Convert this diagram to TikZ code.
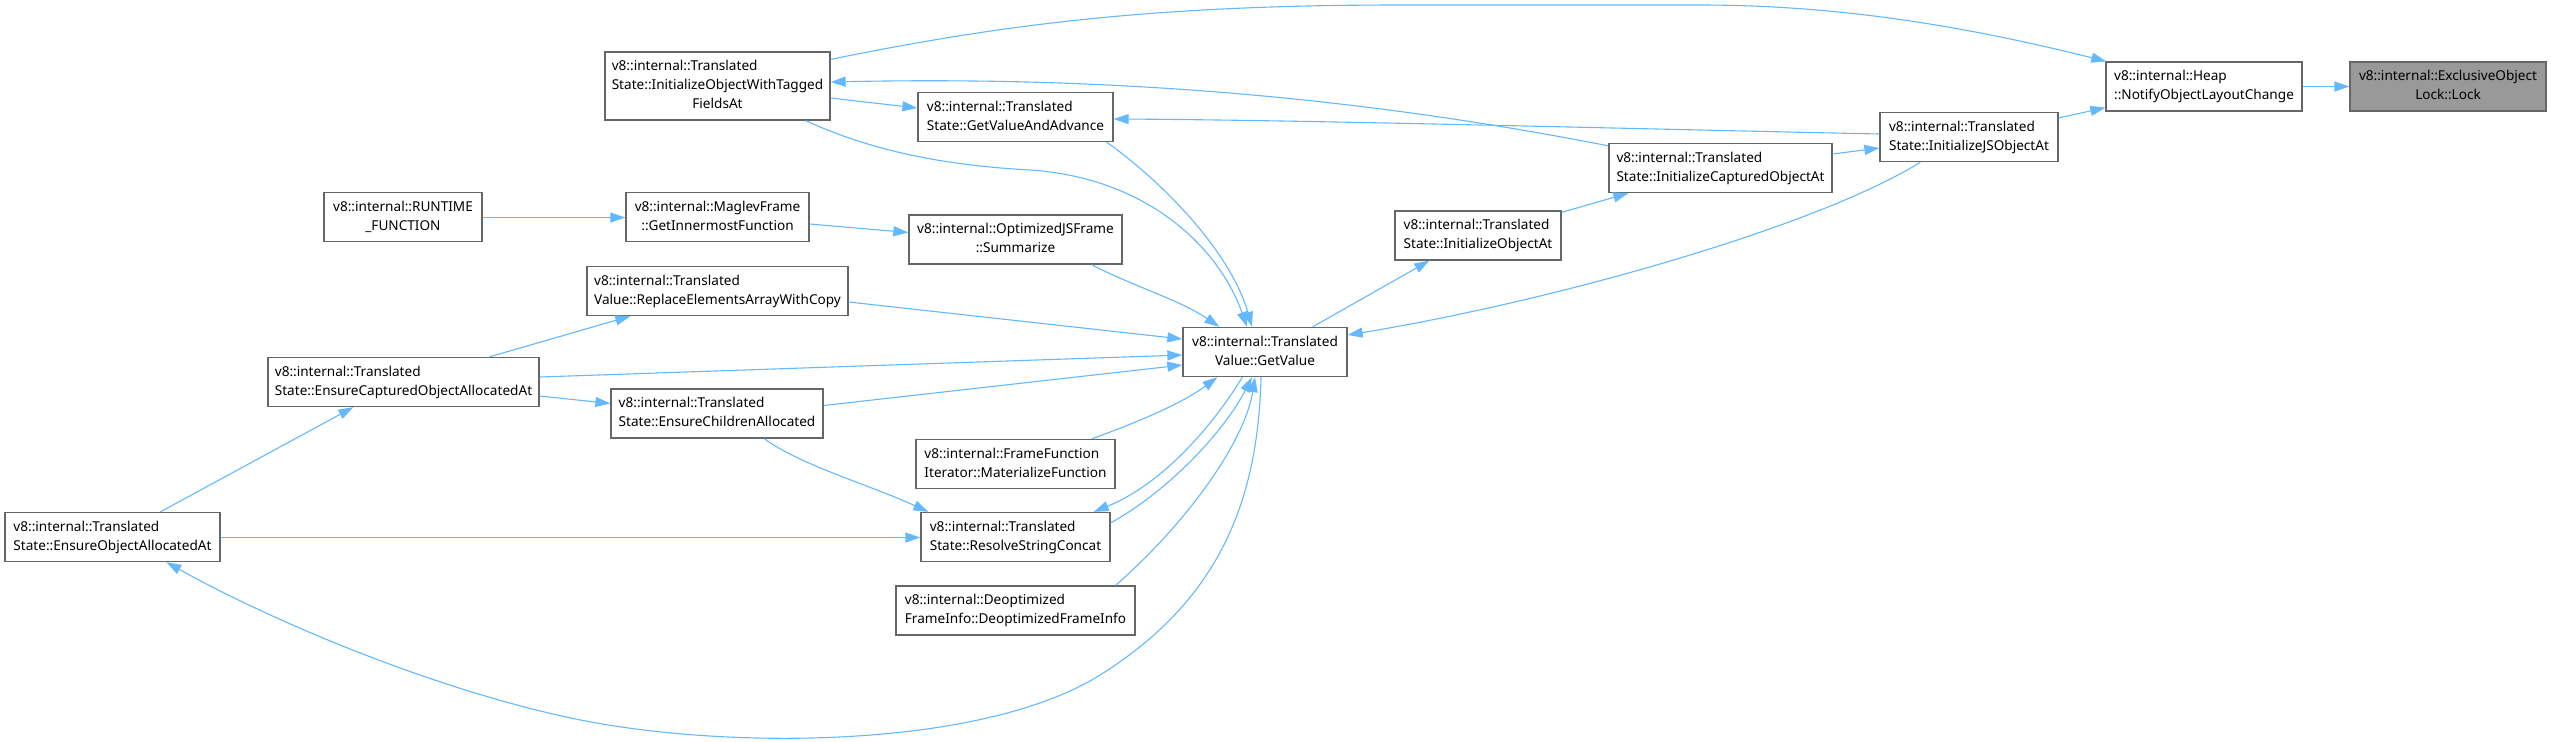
\documentclass[tikz,border=0pt]{standalone}
\usepackage{fontspec}
\setmainfont{Noto Sans}
\usetikzlibrary{arrows.meta,calc}
\definecolor{edgec}{HTML}{63B8FF}
\definecolor{bordc}{HTML}{666666}
\definecolor{hlfill}{HTML}{999999}
\newcommand{\twol}[2]{\begin{tabular}{@{}l@{}}#1\\\multicolumn{1}{@{}c@{}}{#2}\end{tabular}}
\newcommand{\threel}[3]{\begin{tabular}{@{}l@{}}#1\\#2\\\multicolumn{1}{@{}c@{}}{#3}\end{tabular}}
\begin{document}
\begin{tikzpicture}[x=0.5pt,y=-0.5pt,
  box/.style={draw=bordc, fill=white, line width=0.65pt, inner sep=0pt, minimum height=24.5pt, font=\fontsize{6.8}{9.5}\selectfont},
  hlbox/.style={box, fill=hlfill},
  edge/.style={draw=edgec, line width=0.55pt, -{Triangle[length=7.5pt,width=5pt]}}]
\useasboundingbox (0,0) rectangle (2551,741);

\node[hlbox, minimum width=98pt] (A) at (2448,86.5) {\twol{v8::internal::ExclusiveObject}{Lock::Lock}};
\node[box, minimum width=98pt] (B) at (2204,86.5) {\twol{v8::internal::Heap}{::NotifyObjectLayoutChange}};
\node[box, minimum width=89pt] (C) at (1969,137) {\twol{v8::internal::Translated}{State::InitializeJSObjectAt}};
\node[box, minimum width=111.5pt] (D) at (1720.5,168) {\twol{v8::internal::Translated}{State::InitializeCapturedObjectAt}};
\node[box, minimum width=83pt] (E) at (1478,235.5) {\twol{v8::internal::Translated}{State::InitializeObjectAt}};
\node[box, minimum width=82pt] (F) at (1265,352) {\twol{v8::internal::Translated}{Value::GetValue}};
\node[box, minimum width=112.5pt, minimum height=34pt] (G) at (717.5,86) {\threel{v8::internal::Translated}{State::InitializeObjectWithTagged}{FieldsAt}};
\node[box, minimum width=97.5pt] (H) at (1015.5,117) {\twol{v8::internal::Translated}{State::GetValueAndAdvance}};
\node[box, minimum width=79pt] (I) at (403,217) {\twol{v8::internal::RUNTIME}{\_FUNCTION}};
\node[box, minimum width=91.5pt] (J) at (717.5,217) {\twol{v8::internal::MaglevFrame}{::GetInnermostFunction}};
\node[box, minimum width=106.5pt] (K) at (1015.5,239.5) {\twol{v8::internal::OptimizedJSFrame}{::Summarize}};
\node[box, minimum width=130.5pt] (L) at (717.5,291) {\twol{v8::internal::Translated}{Value::ReplaceElementsArrayWithCopy}};
\node[box, minimum width=135.5pt] (M) at (403.5,382) {\twol{v8::internal::Translated}{State::EnsureCapturedObjectAllocatedAt}};
\node[box, minimum width=106pt] (N) at (717,413.5) {\twol{v8::internal::Translated}{State::EnsureChildrenAllocated}};
\node[box, minimum width=99.5pt] (O) at (1015.5,464) {\twol{v8::internal::FrameFunction}{Iterator::MaterializeFunction}};
\node[box, minimum width=94.5pt] (P) at (1015.5,537) {\twol{v8::internal::Translated}{State::ResolveStringConcat}};
\node[box, minimum width=107.5pt] (Q) at (112.5,537) {\twol{v8::internal::Translated}{State::EnsureObjectAllocatedAt}};
\node[box, minimum width=119.5pt] (R) at (1015.5,610.5) {\twol{v8::internal::Deoptimized}{FrameInfo::DeoptimizedFrameInfo}};

\draw[edge] (B.east) -- (A.west);
\draw[edge] ($(C.north east)+(0,6)$) -- ($(B.south west)+(0,-4)$);
\draw[edge] ($(G.north east)+(0,8)$) .. controls (1000,25) and (1150,5) .. (1400,5) -- (1700,5) .. controls (1850,5) and (1980,30) .. ($(B.north west)+(1,0)$);
\draw[edge] ($(D.north west)+(0,3)$) .. controls (1400,105) and (1150,75) .. ($(G.east)+(0,-4)$);
\draw[edge] ($(G.east)+(0,12)$) -- ($(H.west)+(0,-9)$);
\draw[edge] ($(C.west)+(0,-3)$) .. controls (1600,128) and (1300,120) .. ($(H.east)+(0,2)$);
\draw[edge] ($(D.east)+(0,-14)$) -- ($(C.west)+(0,11)$);
\draw[edge] ($(E.north east)+(0,2)$) -- ($(D.south west)+(20,0)$);
\draw[edge] ($(F.north east)+(-35,0)$) -- ($(E.south west)+(35,0)$);
\draw[edge] ($(C.south west)+(41,0)$) .. controls (1820,225) and (1560,300) .. ($(F.east)+(0,-17)$);
\draw[edge] ($(G.south east)+(-25,0)$) .. controls (870,150) and (940,165) .. (1030,170) .. controls (1150,178) and (1220,250) .. ($(F.north)+(-18,0)$);
\draw[edge] ($(H.south east)+(-7,0)$) .. controls (1160,180) and (1230,250) .. ($(F.north)+(-13,0)$);
\draw[edge] ($(I.east)+(0,0.5)$) -- ($(J.west)+(0,0.5)$);
\draw[edge] ($(J.east)+(0,7)$) -- ($(K.west)+(0,-7)$);
\draw[edge] ($(K.south east)+(-31,0)$) .. controls (1130,285) and (1180,300) .. ($(F.north west)+(37,0)$);
\draw[edge] ($(L.east)+(0,11)$) -- ($(F.west)+(0,-13)$);
\draw[edge] ($(M.north west)+(222,0)$) -- ($(L.south west)+(44,0)$);
\draw[edge] ($(M.east)+(0,-5)$) -- ($(F.west)+(0,3)$);
\draw[edge] ($(M.east)+(0,14)$) -- ($(N.west)+(0,-10)$);
\draw[edge] ($(N.east)+(0,-8)$) -- ($(F.west)+(0,13)$);
\draw[edge] ($(N.south west)+(154,0)$) .. controls (800,465) and (870,485) .. ($(P.north west)+(8,0)$);
\draw[edge] ($(Q.north west)+(156,0)$) -- ($(M.south west)+(86,0)$);
\draw[edge] ($(Q.east)+(0,0.5)$) -- ($(P.west)+(0,0.5)$);
\draw[edge] ($(F.south)+(-4,0)$) .. controls (1258,500) and (1220,600) .. (1100,675) .. controls (980,750) and (720,750) .. (571,718) .. controls (430,688) and (270,620) .. ($(Q.south west)+(162,0)$);
\draw[edge] ($(O.north east)+(-24,0)$) .. controls (1130,425) and (1180,405) .. ($(F.south west)+(35,0)$);
\draw[edge] ($(F.south west)+(60,0)$) .. controls (1210,430) and (1160,485) .. ($(P.north east)+(-17,0)$);
\draw[edge] ($(P.north east)+(0,11)$) .. controls (1170,490) and (1225,430) .. ($(F.south)+(-13,0)$);
\draw[edge] ($(R.north east)+(-20,0)$) .. controls (1190,520) and (1245,440) .. ($(F.south)+(-10,0)$);
\end{tikzpicture}
\end{document}
